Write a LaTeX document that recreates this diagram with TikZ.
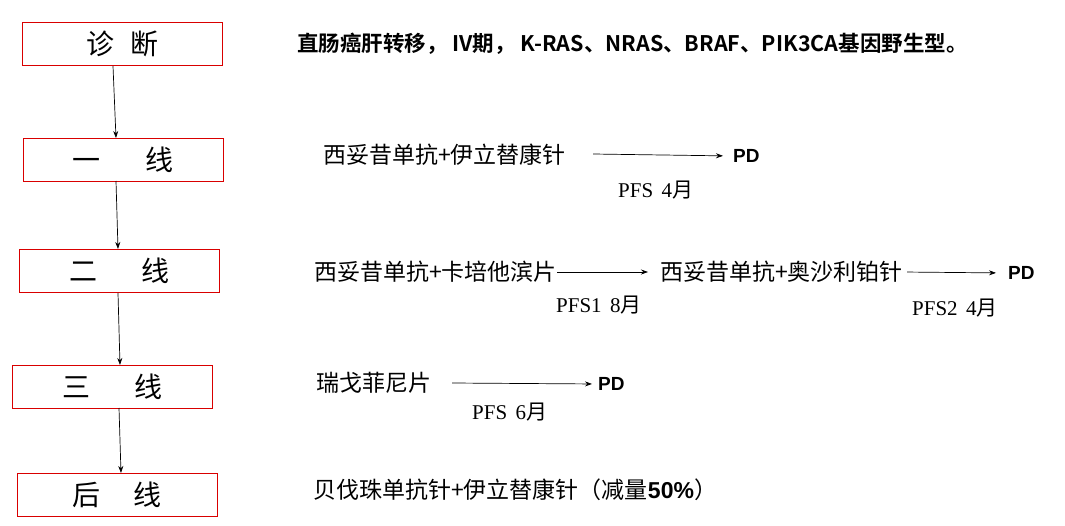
\documentclass[tikz,border=0pt]{standalone}
\usepackage{fontspec}
\newfontfamily\cjk{Noto Sans CJK SC}
\newfontfamily\cjkb{Noto Sans CJK SC Bold}
\newfontfamily\lat{Liberation Serif}
\newfontfamily\latb{Liberation Sans}
\usetikzlibrary{arrows.meta}
\begin{document}
\begin{tikzpicture}[x=1pt,y=-1pt,
 box/.style={draw=red!85!black,line width=1pt,minimum width=200pt,minimum height=43pt,inner sep=0pt,font=\fontsize{28}{30}\selectfont\cjk},
 txt/.style={anchor=west,inner sep=0pt,font=\fontsize{23}{26}\selectfont\cjk},
 pfs/.style={anchor=west,inner sep=0pt,font=\fontsize{21}{24}\selectfont\lat},
 btxt/.style={anchor=west,inner sep=0pt,font=\fontsize{19}{24}\selectfont\latb\bfseries},
 arr/.style={-{Stealth[length=7pt,width=5pt]},line width=0.7pt}]
\useasboundingbox (0,0) rectangle (1065,525);
\fill[white] (0,0) rectangle (1065,525);
\node[box] (b1) at (122.5,44) {诊\hspace{0.6em}断};
\node[box] (b2) at (123,159.5) {一\hspace{1.6em}线};
\node[box] (b3) at (119.5,271) {二\hspace{1.6em}线};
\node[box] (b4) at (112.5,386.5) {三\hspace{1.6em}线};
\node[box] (b5) at (117,495) {后\hspace{1.2em}线};
\coordinate (a1) at (113,66); \coordinate (a2) at (116,138);
\coordinate (c1) at (116,181); \coordinate (c2) at (118,249);
\coordinate (d1) at (118,293); \coordinate (d2) at (120,365);
\coordinate (e1) at (119,408); \coordinate (e2) at (121,473);
\draw[arr] (a1)--(a2); \draw[arr] (c1)--(c2); \draw[arr] (d1)--(d2); \draw[arr] (e1)--(e2);

\node[anchor=west,inner sep=0pt,font=\fontsize{21.5}{24}\selectfont\cjkb] (t0) at (297,44) {直肠癌肝转移， IV期， K-RAS、NRAS、BRAF、PIK3CA基因野生型。};

\node[txt] (t1) at (323,155) {西妥昔单抗+伊立替康针};
\node[btxt] (p1) at (733,156) {PD};
\coordinate (s1) at (593,154);
\draw[arr,shorten >=10pt] (s1)--(p1.west);
\node[pfs] (f1) at (618,190) {PFS\hspace{0.4em}4{\cjk 月}};

\node[txt] (t2) at (314,272) {西妥昔单抗+卡培他滨片};
\node[txt] (t3) at (660,272) {西妥昔单抗+奥沙利铂针};
\draw[arr,shorten >=12pt] (t2.east)--(t3.west);
\node[btxt] (p2) at (1008,273) {PD};
\draw[arr,shorten >=12pt,shorten <=4pt] (t3.east)--(p2.west);
\node[pfs] (f2) at (556,305) {PFS1\hspace{0.4em}8{\cjk 月}};
\node[pfs] (f3) at (912,308) {PFS2\hspace{0.4em}4{\cjk 月}};

\node[txt] (t4) at (316,383) {瑞戈菲尼片};
\node[btxt] (p3) at (598,384) {PD};
\coordinate (s4) at (452,383);
\draw[arr,shorten >=6pt] (s4)--(p3.west);
\node[pfs] (f4) at (472,412) {PFS\hspace{0.4em}6{\cjk 月}};

\node[txt] (t5) at (313,490) {贝伐珠单抗针+伊立替康针（减量{\latb\bfseries 50\%}）};
\end{tikzpicture}
\end{document}
